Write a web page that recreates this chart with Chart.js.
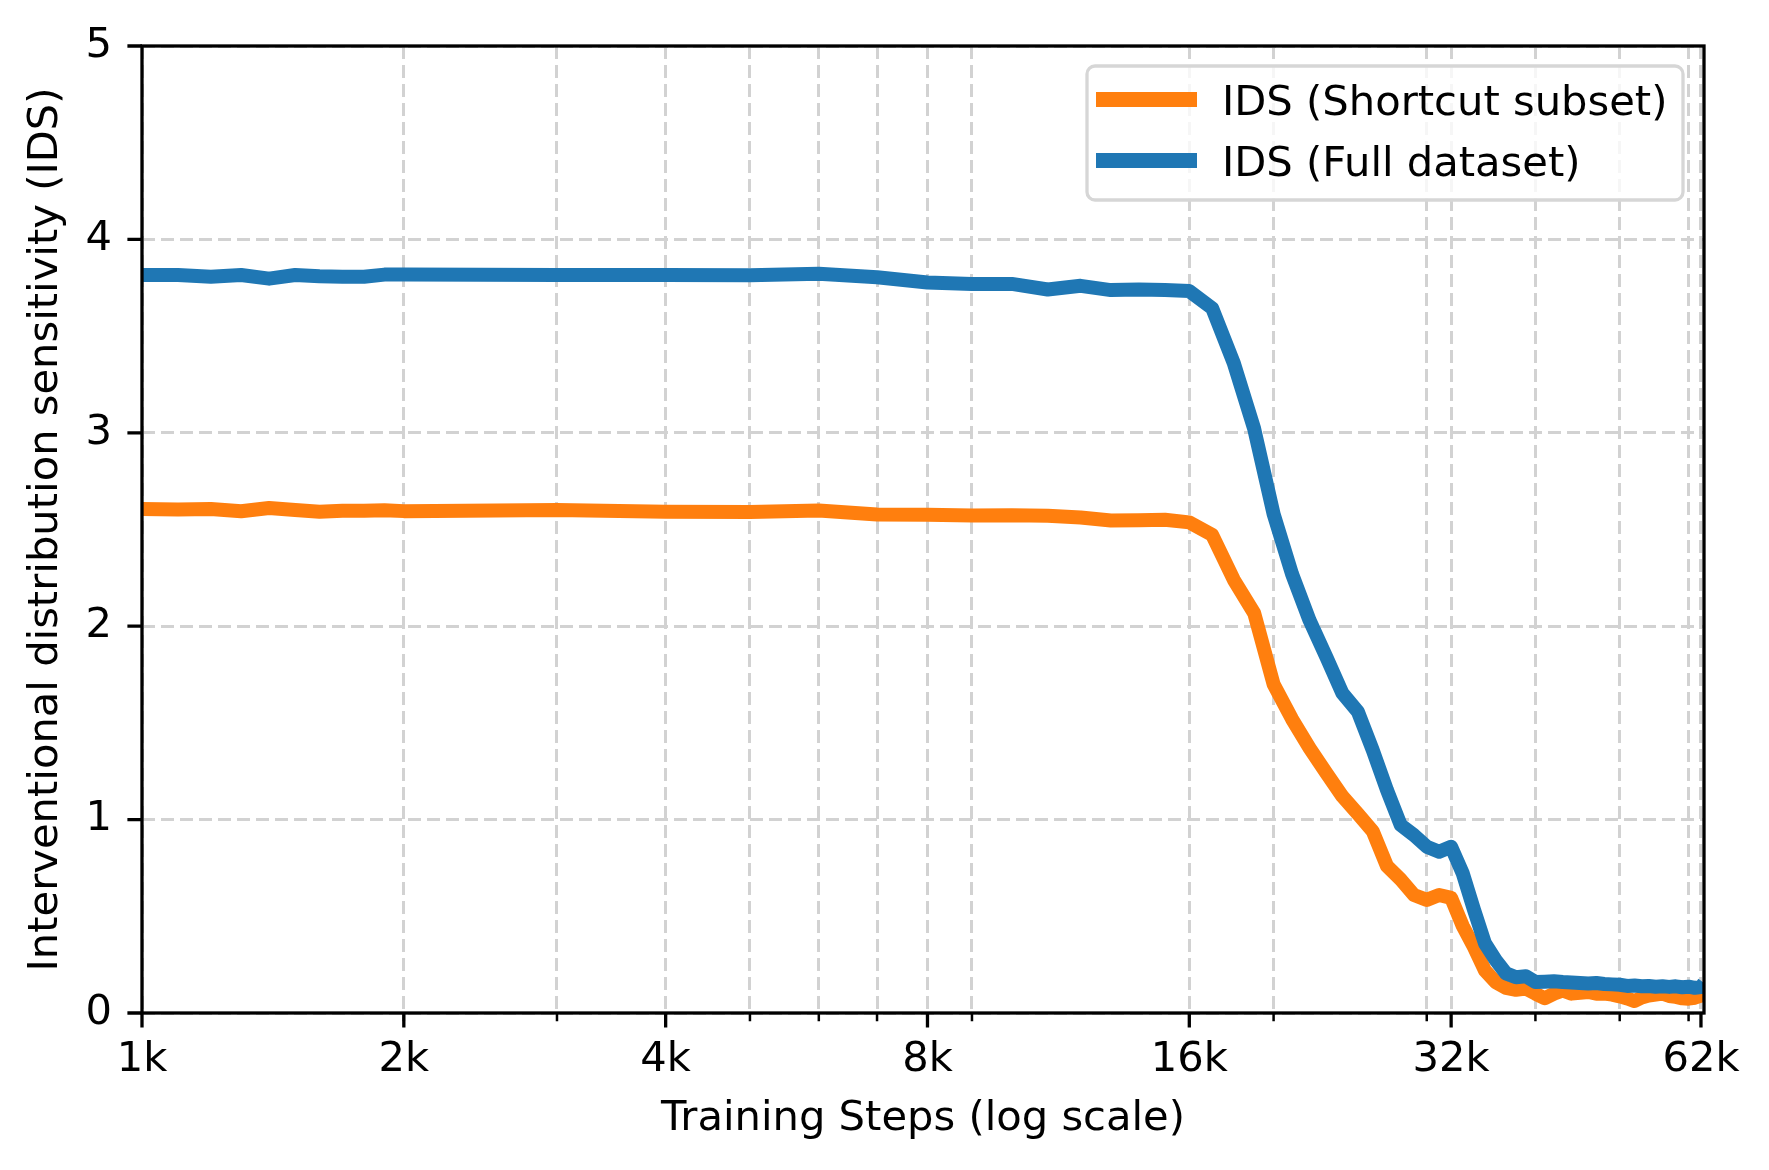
<!DOCTYPE html>
<html>
<head>
<meta charset="utf-8">
<script src="https://cdn.jsdelivr.net/npm/chart.js@4.4.0/dist/chart.umd.min.js"></script>
<style>
  html, body { margin: 0; padding: 0; background: #fff; }
  canvas { display: block; }
</style>
</head>
<body>
<canvas id="ids-chart" width="1769" height="1170" style="width:1769px;height:1170px"></canvas>
<script>
'use strict';

const trainingSteps = [
    1000, 1100, 1200, 1300, 1400, 1500, 1600, 1700, 1800, 1900, 2000,
    3000, 4000, 5000, 6000, 7000, 8000, 9000, 10000, 11000, 12000,
    13000, 14000, 15000, 16000, 17000, 18000, 19000, 20000, 21000, 22000,
    23000, 24000, 25000, 26000, 27000, 28000, 29000, 30000, 31000, 32000,
    33000, 34000, 35000, 36000, 37000, 38000, 39000, 40000, 41000, 42000,
    43000, 44000, 45000, 46000, 47000, 48000, 49000, 50000, 51000, 52000,
    53000, 54000, 55000, 56000, 57000, 58000, 59000, 60000, 61000, 62000,
    62500,
];

const idsShortcutSubset = [
    2.606, 2.603, 2.606, 2.594, 2.611, 2.601, 2.592, 2.597, 2.597, 2.600, 2.595,
    2.601, 2.592, 2.590, 2.598, 2.578, 2.576, 2.572, 2.574, 2.571, 2.562,
    2.547, 2.548, 2.550, 2.537, 2.472, 2.240, 2.067, 1.700, 1.520, 1.370,
    1.240, 1.120, 1.030, 0.940, 0.760, 0.690, 0.610, 0.585, 0.610, 0.595,
    0.450, 0.340, 0.220, 0.160, 0.130, 0.120, 0.126, 0.100, 0.076, 0.100,
    0.117, 0.100, 0.105, 0.109, 0.100, 0.100, 0.095, 0.086, 0.075, 0.062,
    0.080, 0.090, 0.095, 0.100, 0.088, 0.083, 0.076, 0.074, 0.079, 0.090,
    0.105,
];

const idsFullDataset = [
    3.816, 3.816, 3.807, 3.816, 3.797, 3.816, 3.809, 3.807, 3.807, 3.818, 3.818,
    3.816, 3.816, 3.814, 3.822, 3.804, 3.777, 3.770, 3.770, 3.741, 3.760,
    3.738, 3.741, 3.738, 3.733, 3.644, 3.360, 3.020, 2.580, 2.270, 2.030,
    1.840, 1.653, 1.558, 1.360, 1.153, 0.972, 0.920, 0.860, 0.834, 0.860,
    0.722, 0.533, 0.360, 0.274, 0.205, 0.185, 0.190, 0.160, 0.162, 0.164,
    0.160, 0.158, 0.155, 0.152, 0.155, 0.150, 0.148, 0.146, 0.140, 0.142,
    0.138, 0.140, 0.136, 0.138, 0.135, 0.138, 0.133, 0.136, 0.130, 0.134,
    0.155,
];

const seriesLabels = ['IDS (Shortcut subset)', 'IDS (Full dataset)'];
const seriesColors = ['#ff7f0e', '#1f77b4'];

const xMajorTicks = [1000, 2000, 4000, 8000, 16000, 32000, 62000];
const xMajorLabels = ['1k', '2k', '4k', '8k', '16k', '32k', '62k'];
const xMinorTicks = [2000, 3000, 4000, 5000, 6000, 7000, 8000, 9000, 20000, 30000, 40000, 50000, 60000];
const yTicks = [0, 1, 2, 3, 4, 5];

const fontSize = 41.67;
const lineWidth = 14;
const gridColor = '#d2d2d2';

Chart.defaults.font.family = "'DejaVu Sans', sans-serif";
Chart.defaults.font.size = fontSize;
Chart.defaults.color = '#000';

const toPoints = values => trainingSteps.map((step, i) => ({ x: step, y: values[i] }));

// spines and tick marks the matplotlib way (major and minor lengths differ)
const axesFramePlugin = {
    id: 'axesFrame',
    afterDraw(chart) {
        const { ctx, chartArea: area, scales: { x, y } } = chart;
        ctx.save();
        ctx.strokeStyle = '#000';
        ctx.lineWidth = 3.3;
        ctx.beginPath();
        for (const v of xMajorTicks) {
            const px = x.getPixelForValue(v);
            ctx.moveTo(px, area.bottom);
            ctx.lineTo(px, area.bottom + 14.6);
        }
        for (const v of yTicks) {
            const py = y.getPixelForValue(v);
            ctx.moveTo(area.left, py);
            ctx.lineTo(area.left - 14.6, py);
        }
        ctx.stroke();
        ctx.lineWidth = 2.5;
        ctx.beginPath();
        for (const v of xMinorTicks) {
            const px = x.getPixelForValue(v);
            ctx.moveTo(px, area.bottom);
            ctx.lineTo(px, area.bottom + 8.3);
        }
        ctx.stroke();
        ctx.lineWidth = 3.3;
        ctx.strokeRect(area.left, area.top, area.right - area.left, area.bottom - area.top);
        ctx.restore();
    },
};

// legend box in the upper right corner of the plot
const insetLegendPlugin = {
    id: 'insetLegend',
    afterDraw(chart) {
        const { ctx } = chart;
        const box = { left: 1087, top: 66, right: 1683, bottom: 200 };
        ctx.save();
        ctx.beginPath();
        ctx.roundRect(box.left, box.top, box.right - box.left, box.bottom - box.top, 8);
        ctx.fillStyle = 'rgba(255,255,255,0.8)';
        ctx.fill();
        ctx.lineWidth = 3.3;
        ctx.strokeStyle = '#d6d6d6';
        ctx.stroke();
        ctx.font = fontSize + "px 'DejaVu Sans', sans-serif";
        ctx.textBaseline = 'alphabetic';
        ctx.textAlign = 'left';
        chart.data.datasets.forEach((dataset, i) => {
            const rowY = 99.5 + i * 61;
            ctx.beginPath();
            ctx.lineWidth = 15;
            ctx.strokeStyle = dataset.borderColor;
            ctx.moveTo(1096, rowY);
            ctx.lineTo(1197, rowY);
            ctx.stroke();
            ctx.fillStyle = '#000';
            ctx.fillText(dataset.label, 1222, rowY + 15);
        });
        ctx.restore();
    },
};

const idsChartElement = document.getElementById('ids-chart');
const idsChart = new Chart(idsChartElement, {
    type: 'line',
    data: {
        datasets: [
            {
                label: seriesLabels[0],
                data: toPoints(idsShortcutSubset),
                borderColor: seriesColors[0],
                borderWidth: lineWidth,
                order: 2,
            },
            {
                label: seriesLabels[1],
                data: toPoints(idsFullDataset),
                borderColor: seriesColors[1],
                borderWidth: lineWidth,
                order: 1,
            },
        ],
    },
    options: {
        responsive: false,
        devicePixelRatio: 1,
        animation: false,
        layout: {
            padding: { top: 46, right: 65, bottom: 0, left: 0 },
        },
        elements: {
            line: {
                tension: 0,
                borderJoinStyle: 'round',
                borderCapStyle: 'butt',
            },
            point: {
                radius: 0,
            },
        },
        datasets: {
            line: {
                clip: 0,
            },
        },
        scales: {
            x: {
                type: 'logarithmic',
                min: 1000,
                max: 62500,
                afterBuildTicks: function (scale) {
                    const values = [...new Set([...xMajorTicks, ...xMinorTicks])].sort((a, b) => a - b);
                    scale.ticks = values.map(v => ({ value: v }));
                },
                afterFit: function (scale) {
                    scale.height = 157;
                },
                ticks: {
                    autoSkip: false,
                    maxRotation: 0,
                    minRotation: 0,
                    padding: 22,
                    callback: function (value) {
                        const index = xMajorTicks.indexOf(value);
                        return index === -1 ? '' : xMajorLabels[index];
                    },
                },
                grid: {
                    color: gridColor,
                    lineWidth: 3,
                    drawTicks: false,
                },
                border: {
                    display: false,
                    dash: [13, 6],
                },
                title: {
                    display: true,
                    text: 'Training Steps (log scale)',
                    padding: { top: 0, bottom: 26 },
                },
            },
            y: {
                type: 'linear',
                min: 0,
                max: 5,
                afterBuildTicks: function (scale) {
                    scale.ticks = yTicks.map(v => ({ value: v }));
                },
                afterFit: function (scale) {
                    scale.width = 142;
                    scale.paddingTop = 0;
                    scale.paddingBottom = 0;
                },
                ticks: {
                    padding: 30,
                },
                grid: {
                    color: gridColor,
                    lineWidth: 3,
                    drawTicks: false,
                },
                border: {
                    display: false,
                    dash: [13, 6],
                },
                title: {
                    display: true,
                    text: 'Interventional distribution sensitivity (IDS)',
                    padding: { top: 21, bottom: 0 },
                },
            },
        },
        plugins: {
            legend: {
                display: false,
            },
            tooltip: {
                enabled: false,
            },
        },
    },
    plugins: [axesFramePlugin, insetLegendPlugin],
});
</script>
</body>
</html>
